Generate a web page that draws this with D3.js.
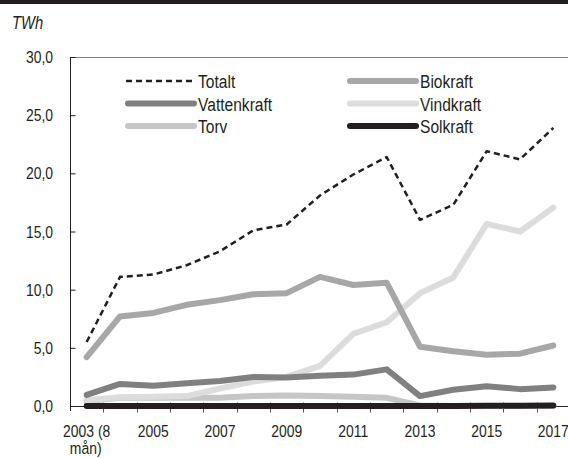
<!DOCTYPE html>
<html><head><meta charset="utf-8">
<script src="https://cdn.jsdelivr.net/npm/d3@7"></script>
<style>body{margin:0;background:#fff}svg{display:block}text{font-family:"Liberation Sans",Arial,sans-serif;fill:#231f20}</style>
</head><body><svg id="c" width="568" height="458"></svg>
<script>
const categories = ["2003 (8 mån)","2004","2005","2006","2007","2008","2009","2010","2011","2012","2013","2014","2015","2016","2017"];
const tickLabels = ["2003 (8 mån)","2005","2007","2009","2011","2013","2015","2017"];
const yTicks = [0,5,10,15,20,25,30];
const totalt      = [5.5,11.1,11.3,12.1,13.3,15.1,15.6,18.1,19.9,21.4,16.0,17.3,21.9,21.2,23.9];
const biokraft    = [4.2,7.7,8.0,8.7,9.1,9.6,9.7,11.1,10.4,10.6,5.1,4.7,4.4,4.5,5.2];
const vattenkraft = [0.95,1.9,1.75,1.95,2.15,2.5,2.45,2.6,2.7,3.15,0.85,1.4,1.7,1.45,1.6];
const vindkraft   = [0.5,0.75,0.8,0.85,1.5,2.1,2.5,3.45,6.2,7.2,9.7,11.05,15.65,15.0,17.05];
const torv        = [0.4,0.7,0.7,0.7,0.7,0.85,0.9,0.85,0.8,0.7,0.05,0,0,0,0];
const solkraft    = [0,0,0,0,0,0,0,0,0,0,0,0.01,0.02,0.03,0.04];

const svg = d3.select("#c");
const L=70, R=570, T=57, B=406;
const SX = 0.82;
const x = d3.scaleBand().domain(categories).range([L,R]);
const y = d3.scaleLinear().domain([0,30]).range([B,T]);
const cx = c => x(c)+x.bandwidth()/2;

function txt(px, py, str, size, anchor, italic){
  return svg.append("text").attr("transform",`translate(${px},${py}) scale(${SX},1)`)
    .attr("font-size",size).attr("text-anchor",anchor||"start")
    .attr("font-style",italic?"italic":null).text(str);
}

// top band
svg.append("rect").attr("x",0).attr("y",0).attr("width",568).attr("height",4).attr("fill","#231f20");

// TWh label
txt(12,29,"TWh",18,"start",true);

// top border
svg.append("line").attr("x1",L).attr("x2",568).attr("y1",T+0.5).attr("y2",T+0.5).attr("stroke","#808080").attr("stroke-width",1);

// y axis
const yAx = svg.append("g").attr("transform",`translate(${L+0.5},0)`)
  .call(d3.axisLeft(y).tickValues(yTicks).tickSizeInner(-5).tickSizeOuter(0).tickFormat(""));
yAx.select(".domain").attr("stroke","#231f20").attr("d",`M0,${T}V${B+5}`);
yAx.selectAll(".tick line").attr("stroke","#231f20");
yTicks.forEach(v=>txt(53, y(v)+6, d3.format(".1f")(v).replace(".",","), 17, "end"));

// x axis
const xAx = svg.append("g").attr("transform",`translate(0,${B+0.5})`)
  .call(d3.axisBottom(x).tickValues([]).tickSizeOuter(0));
xAx.select(".domain").attr("stroke","#231f20").attr("d",`M${L},0H568`);
const bounds = categories.slice(1).map(c=>x(c));
xAx.selectAll("line.b").data(bounds).join("line").attr("class","b")
  .attr("x1",d=>Math.round(d)+0.5).attr("x2",d=>Math.round(d)+0.5).attr("y1",-4).attr("y2",6).attr("stroke","#555");
tickLabels.forEach(t=>{
  const cat = categories.find(c=>c===t);
  if(t.indexOf(" (")>0){
    const parts = t.split(" ");
    txt(cx(cat), 437, parts[0]+" "+parts[1], 17, "middle");
    txt(cx(cat)-1, 454, parts[2], 17, "middle");
  } else txt(cx(cat), 437, t, 17, "middle");
});

const line = d3.line().x((d,i)=>cx(categories[i])).y(d=>y(d));
const series = [
  {name:"Torv", data:torv, color:"#c6c6c8", w:6},
  {name:"Vindkraft", data:vindkraft, color:"#dcdcdd", w:6},
  {name:"Vattenkraft", data:vattenkraft, color:"#808082", w:6},
  {name:"Biokraft", data:biokraft, color:"#a7a7a9", w:6},
  {name:"Solkraft", data:solkraft, color:"#231f20", w:6},
  {name:"Totalt", data:totalt, color:"#231f20", w:2.5, dash:"6,4"}
];
series.forEach(s=>{
  svg.append("path").attr("d",line(s.data)).attr("fill","none").attr("stroke",s.color)
    .attr("stroke-width",s.w).attr("stroke-linejoin","round")
    .attr("stroke-linecap",s.dash?"butt":"round").attr("stroke-dasharray",s.dash||null);
});

// legend
const legend = [
  {name:"Totalt", col:0,row:0},{name:"Biokraft",col:1,row:0},
  {name:"Vattenkraft",col:0,row:1},{name:"Vindkraft",col:1,row:1},
  {name:"Torv",col:0,row:2},{name:"Solkraft",col:1,row:2}
];
const lx=[126,348], ly=[81,103.5,126];
legend.forEach(l=>{
  const s = series.find(q=>q.name===l.name);
  const x0=lx[l.col], yy=ly[l.row];
  svg.append("line").attr("x1",x0+(s.dash?0:2)).attr("x2",x0+(s.dash?70:68)).attr("y1",yy).attr("y2",yy)
    .attr("stroke",s.color).attr("stroke-width",s.w).attr("stroke-linecap",s.dash?"butt":"round")
    .attr("stroke-dasharray",s.dash||null);
  txt(x0+72, yy+7, l.name, 19, "start");
});
</script></body></html>
